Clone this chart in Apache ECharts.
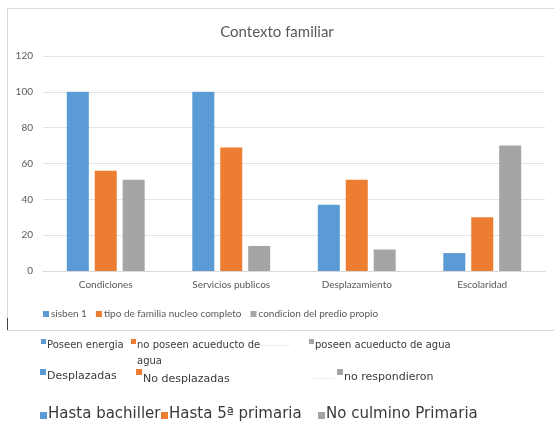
<!DOCTYPE html>
<html>
<head>
<meta charset="utf-8">
<script src="https://cdn.jsdelivr.net/npm/echarts@6/dist/echarts.min.js"></script>
<style>
  html, body { margin: 0; padding: 0; background: #fff; }
  #chart { width: 554px; height: 428px; }
</style>
</head>
<body>
<div id="chart"></div>
<script>
const categories = ['Condiciones', 'Servicios publicos', 'Desplazamiento', 'Escolaridad']
const seriesNames = ['sisben 1', 'tipo de familia nucleo completo', 'condicion del predio propio']
const sisben = [100, 100, 37, 10]
const familia = [56, 69, 51, 30]
const predio = [51, 14, 12, 70]
const yTicks = [0, 20, 40, 60, 80, 100, 120]

// leyendas pegadas debajo del grafico
const extraRow1 = ['Poseen energia', 'no poseen acueducto de\nagua', 'poseen acueducto de agua']
const extraRow2 = ['Desplazadas', 'No desplazadas', 'no respondieron']
const extraRow3 = ['Hasta bachiller', 'Hasta 5ª primaria', 'No culmino Primaria']

const colors = ['#5B9BD5', '#ED7D31', '#A5A5A5']

const chart = echarts.init(document.getElementById('chart'))

const pastedRow = (labels, xs, y, size, squareSize, sqDy, textDy) => {
  const els = []
  labels.forEach((label, i) => {
    els.push({
      type: 'rect',
      shape: { x: xs[i], y: y + sqDy, width: squareSize, height: squareSize },
      style: { fill: colors[i] }
    })
    els.push({
      type: 'text',
      x: xs[i] + squareSize + 1,
      y: y + (textDy ? textDy[i] : 0),
      style: {
        text: label,
        fill: '#3a3a3a',
        font: size + 'px "DejaVu Sans"',
        lineHeight: size + 6,
        verticalAlign: 'top'
      }
    })
  })
  return els
}

const graphics = [
  { type: 'line', shape: { x1: 7, y1: 8.5, x2: 554, y2: 8.5 }, style: { stroke: '#d9d9d9', lineWidth: 1 } },
  { type: 'line', shape: { x1: 7.5, y1: 8, x2: 7.5, y2: 318 }, style: { stroke: '#d9d9d9', lineWidth: 1 } },
  { type: 'line', shape: { x1: 7.5, y1: 318, x2: 7.5, y2: 331 }, style: { stroke: '#444', lineWidth: 1 } },
  { type: 'line', shape: { x1: 7, y1: 330.5, x2: 554, y2: 330.5 }, style: { stroke: '#d9d9d9', lineWidth: 1 } },
  // restos de recorte entre las imagenes pegadas
  { type: 'line', shape: { x1: 258, y1: 345.5, x2: 290, y2: 345.5 }, style: { stroke: '#eeeeee', lineWidth: 1 } },
  { type: 'line', shape: { x1: 313, y1: 378.5, x2: 335, y2: 378.5 }, style: { stroke: '#eeeeee', lineWidth: 1 } },
  ...pastedRow(extraRow1, [41, 131, 309], 337, 10, 5, 2),
  ...pastedRow(extraRow2, [40, 136, 337], 368, 11, 6, 1, [0, 3, 1]),
  ...pastedRow(extraRow3, [40, 161, 318], 404, 15, 7, 8)
]

const option = {
  animation: false,
  color: colors,
  title: {
    text: 'Contexto familiar',
    left: 'center',
    top: 20,
    textStyle: { fontSize: 15, fontWeight: 'normal', color: '#595959', fontFamily: 'Lato' }
  },
  legend: {
    data: seriesNames,
    left: 38,
    top: 304,
    itemWidth: 6,
    itemHeight: 6,
    itemGap: 9,
    icon: 'rect',
    textStyle: { fontSize: 10, color: '#595959', fontFamily: 'Lato', padding: [0, 0, 0, -3] }
  },
  grid: { left: 43, right: 9, top: 56, bottom: 157 },
  xAxis: {
    type: 'category',
    data: categories,
    axisLine: { lineStyle: { color: '#d9d9d9' } },
    axisTick: { show: false },
    axisLabel: { fontSize: 10, color: '#595959', fontFamily: 'Lato', margin: 9 }
  },
  yAxis: {
    type: 'value',
    min: yTicks[0],
    max: yTicks[yTicks.length - 1],
    interval: yTicks[1] - yTicks[0],
    axisLine: { show: false },
    axisTick: { show: false },
    splitLine: { lineStyle: { color: '#e3e3e3' } },
    axisLabel: { fontSize: 10, color: '#595959', fontFamily: 'Lato', margin: 10 }
  },
  series: [
    { name: seriesNames[0], type: 'bar', data: sisben, barWidth: 22, barGap: '27%' },
    { name: seriesNames[1], type: 'bar', data: familia, barWidth: 22, barGap: '27%' },
    { name: seriesNames[2], type: 'bar', data: predio, barWidth: 22, barGap: '27%' }
  ],
  graphic: graphics
}

chart.setOption(option)
</script>
</body>
</html>
